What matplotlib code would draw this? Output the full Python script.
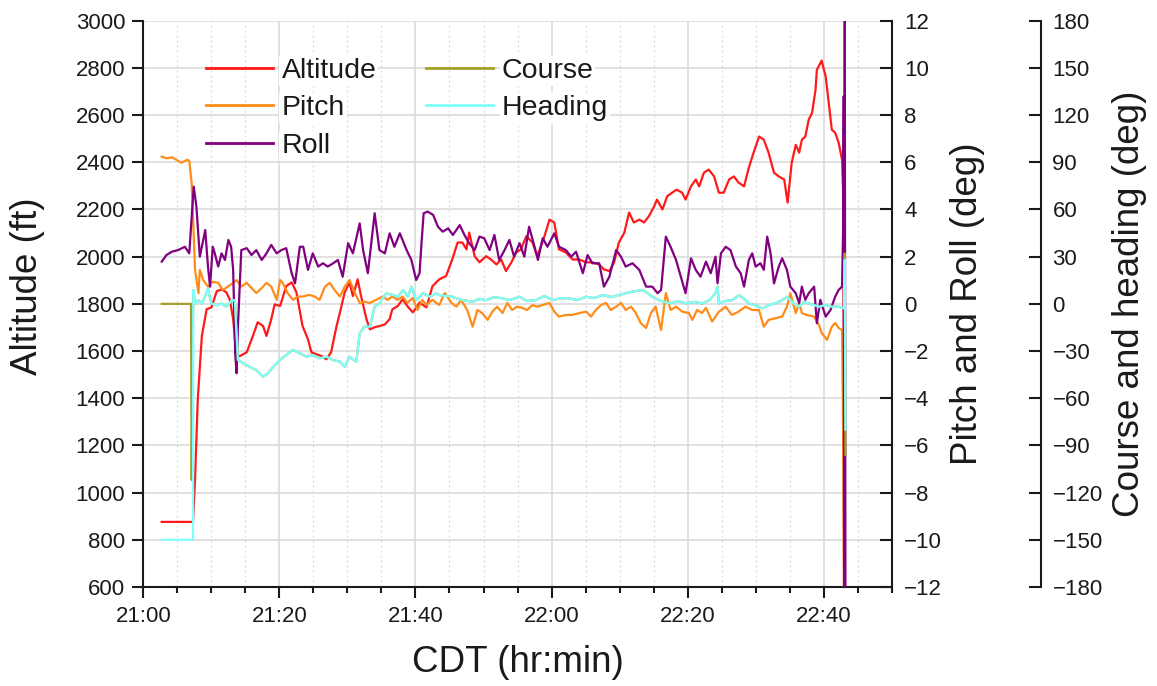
import matplotlib.pyplot as plt
from matplotlib.ticker import MultipleLocator, FixedLocator

plt.rcParams['font.family'] = ['Liberation Sans', 'DejaVu Sans']

# flight log, time in minutes after 21:00 CDT
altitude = [
    (2.7, 876), (7.3, 876), (7.6, 1058), (8.0, 1396), (8.6, 1664), (9.3, 1777), (10.0, 1785),
    (10.8, 1854), (11.5, 1861), (12.2, 1849), (12.7, 1819), (13.2, 1735), (13.7, 1579), (14.2, 1579),
    (15.2, 1595), (16.1, 1664), (16.8, 1722), (17.6, 1706), (18.1, 1664), (18.8, 1735), (19.3, 1798),
    (20.1, 1791), (21.0, 1875), (21.8, 1891), (22.5, 1849), (23.4, 1706), (24.2, 1650), (24.7, 1595),
    (25.4, 1587), (26.2, 1579), (26.9, 1565), (27.6, 1595), (28.4, 1706), (28.9, 1764), (29.6, 1849),
    (30.3, 1891), (30.8, 1833), (31.5, 1904), (32.0, 1833), (32.8, 1735), (33.3, 1692), (34.0, 1701),
    (34.7, 1706), (35.5, 1713), (36.2, 1735), (36.6, 1777), (37.4, 1791), (38.1, 1819), (38.8, 1791),
    (39.6, 1764), (40.3, 1791), (40.6, 1806), (41.6, 1785), (42.5, 1875), (43.5, 1904), (44.5, 1918),
    (45.4, 1988), (46.2, 2060), (46.9, 2060), (47.5, 2031), (47.9, 2102), (48.7, 2002), (49.4, 1976),
    (50.4, 2002), (51.1, 1988), (51.9, 1967), (52.6, 1988), (53.3, 1939), (54.1, 1976), (54.8, 2018),
    (55.5, 2031), (56.3, 2087), (57.2, 2060), (57.9, 2002), (58.9, 2081), (59.7, 2157), (60.4, 2145),
    (61.1, 2031), (62.1, 2018), (63.1, 1988), (64.1, 1988), (65.1, 1976), (66.0, 1976), (67.0, 1967),
    (67.7, 1946), (68.5, 1939), (69.2, 1976), (69.9, 2060), (70.7, 2102), (71.4, 2187), (72.1, 2145),
    (72.9, 2157), (73.6, 2145), (74.3, 2171), (75.1, 2214), (75.5, 2242), (76.3, 2200), (77.0, 2256),
    (77.7, 2271), (78.4, 2284), (79.2, 2271), (79.7, 2242), (80.5, 2298), (81.2, 2327), (81.7, 2298),
    (82.4, 2356), (83.1, 2369), (83.9, 2340), (84.6, 2271), (85.3, 2271), (86.1, 2327), (86.8, 2340),
    (87.5, 2314), (88.3, 2298), (89.0, 2377), (89.7, 2441), (90.5, 2509), (91.2, 2496), (91.9, 2441),
    (92.7, 2356), (93.4, 2340), (94.2, 2327), (94.7, 2229), (95.3, 2398), (95.9, 2474), (96.4, 2441),
    (96.8, 2496), (97.3, 2509), (97.8, 2580), (98.3, 2610), (98.8, 2707), (99.0, 2792), (99.7, 2831),
    (100.3, 2763), (100.8, 2636), (101.2, 2538), (101.7, 2525), (102.2, 2483), (102.7, 2411),
    (102.9, 2242), (103.0, 550),
]

pitch = [
    (2.7, 6.24), (3.4, 6.17), (4.2, 6.21), (4.9, 6.10), (5.6, 5.98), (6.4, 6.10), (6.75, 6.07),
    (7.1, 5.12), (7.6, 1.44), (8.1, 0.45), (8.3, 1.44), (8.8, 1.01), (9.5, 0.73), (10.2, 0.94),
    (11.0, 0.89), (11.7, 0.59), (12.4, 0.73), (13.2, 0.89), (13.7, 1.01), (14.4, 0.73), (15.2, 0.89),
    (15.9, 0.67), (16.6, 0.46), (17.4, 0.67), (18.1, 0.89), (18.8, 0.73), (19.6, 0.17), (20.1, 1.01),
    (20.5, 0.89), (21.2, 0.46), (22.0, 0.17), (22.7, 0.31), (23.4, 0.31), (24.4, 0.38), (25.2, 0.31),
    (25.9, 0.17), (26.7, 0.73), (27.4, 0.89), (28.1, 0.59), (28.9, 0.31), (29.6, 0.73), (30.3, 1.01),
    (31.1, 0.46), (31.8, 0.04), (32.5, 0.09), (33.3, 0.04), (34.2, 0.17), (35.2, 0.31), (35.9, 0.17),
    (36.6, 0.31), (37.4, 0.17), (38.1, 0.31), (38.8, 0.04), (39.6, 0.25), (40.3, -0.26), (41.0, 0.17),
    (41.6, -0.05), (42.5, 0.17), (43.5, -0.05), (44.3, 0.46), (45.3, 0.04), (46.0, -0.12), (46.7, 0.17),
    (47.6, -0.26), (48.4, -0.97), (49.1, -0.26), (49.8, -0.39), (50.6, -0.68), (51.3, -0.33),
    (52.0, -0.12), (52.8, -0.39), (53.5, 0.04), (54.2, -0.26), (54.9, -0.12), (55.7, -0.17),
    (56.4, -0.26), (57.2, -0.05), (57.9, -0.12), (58.7, -0.05), (59.7, 0.04), (60.4, -0.33),
    (61.1, -0.54), (62.1, -0.47), (63.0, -0.47), (64.1, -0.39), (65.1, -0.33), (65.8, -0.54),
    (66.5, -0.26), (67.3, -0.05), (68.0, 0.04), (68.7, -0.26), (69.5, -0.12), (70.2, 0.04),
    (70.9, -0.26), (71.7, -0.12), (72.4, -0.39), (73.1, -0.81), (73.9, -1.02), (74.6, -0.39),
    (75.3, -0.12), (76.1, -1.11), (76.8, 0.46), (77.5, -0.26), (78.3, -0.12), (79.2, -0.33),
    (80.2, -0.39), (80.7, -0.68), (81.4, -0.26), (82.1, -0.39), (82.7, -0.17), (83.6, -0.75),
    (84.6, -0.33), (85.6, -0.12), (86.5, -0.47), (87.5, -0.33), (88.5, -0.12), (89.5, -0.26),
    (90.5, -0.26), (91.2, -0.97), (91.9, -0.68), (92.9, -0.61), (93.9, -0.54), (94.6, -0.12),
    (95.1, 0.45), (95.9, -0.39), (96.4, 0.04), (96.8, -0.39), (97.5, -0.47), (98.6, -0.54),
    (99.3, -0.89), (99.7, -1.23), (100.5, -1.53), (101.2, -0.97), (101.7, -0.81), (102.2, -1.02),
    (102.7, -1.11), (102.85, -5.0), (103.0, -12.5),
]

roll = [
    (2.7, 1.79), (3.4, 2.07), (4.2, 2.21), (5.1, 2.28), (6.1, 2.42), (6.75, 2.14), (7.1, 3.69),
    (7.4, 4.97), (7.8, 4.12), (8.3, 2.00), (8.8, 2.71), (9.1, 3.13), (9.5, 1.58), (9.8, 0.73),
    (10.2, 2.42), (10.5, 2.14), (11.0, 1.58), (11.5, 2.14), (12.0, 1.86), (12.5, 2.71), (12.9, 2.42),
    (13.2, 1.44), (13.5, -2.09), (13.7, -2.94), (13.9, -0.97), (14.4, 2.28), (15.2, 2.36),
    (15.9, 2.07), (16.6, 2.28), (17.4, 1.86), (18.1, 2.14), (18.8, 2.50), (19.6, 2.14), (20.3, 2.28),
    (21.0, 2.36), (21.8, 1.30), (22.3, 0.87), (23.0, 2.42), (23.5, 2.42), (24.2, 1.44), (24.9, 2.14),
    (25.7, 1.58), (26.4, 1.72), (27.1, 1.58), (27.9, 1.72), (28.6, 1.86), (29.3, 1.15), (30.1, 2.57),
    (30.8, 2.14), (31.8, 3.41), (32.3, 2.28), (33.0, 1.30), (34.0, 3.84), (34.7, 2.28), (35.5, 2.14),
    (36.2, 2.99), (36.9, 2.42), (37.7, 2.99), (38.7, 2.28), (39.4, 1.86), (40.1, 1.01), (40.6, 1.30),
    (40.85, 2.42), (41.2, 3.84), (41.8, 3.91), (42.6, 3.77), (43.3, 3.27), (44.0, 3.06), (44.8, 3.20),
    (45.5, 2.92), (46.5, 3.34), (47.2, 2.92), (47.9, 2.57), (48.7, 2.28), (49.4, 2.85), (50.1, 2.78),
    (50.9, 2.28), (51.6, 2.92), (52.3, 1.86), (53.1, 2.28), (53.8, 2.71), (54.5, 2.00), (55.3, 2.57),
    (56.0, 2.00), (56.7, 3.27), (57.5, 2.42), (58.0, 1.86), (58.7, 2.78), (59.4, 2.42), (60.4, 2.99),
    (61.1, 2.42), (62.1, 2.28), (62.9, 2.00), (63.6, 2.21), (64.6, 1.30), (65.3, 2.07), (66.0, 1.72),
    (67.0, 1.72), (67.7, 0.73), (68.5, 1.15), (69.5, 2.28), (70.2, 2.00), (70.9, 1.58), (71.9, 1.72),
    (72.9, 1.44), (73.9, 0.73), (74.8, 0.73), (75.6, 0.45), (76.1, 0.59), (76.8, 2.85), (77.5, 2.42),
    (78.3, 1.86), (79.0, 1.15), (79.7, 0.45), (80.5, 1.93), (81.2, 1.44), (81.9, 1.15), (82.7, 1.79),
    (83.4, 1.30), (84.1, 2.00), (84.4, 0.87), (84.9, 2.14), (85.6, 2.42), (86.3, 2.28), (87.1, 1.58),
    (87.8, 1.30), (88.3, 0.73), (89.0, 1.86), (89.5, 2.14), (90.0, 1.58), (90.7, 1.72), (91.2, 1.44),
    (91.7, 2.85), (92.2, 2.14), (92.7, 0.87), (93.4, 1.58), (93.9, 1.93), (94.6, 1.44), (95.1, 0.73),
    (95.9, 0.45), (96.4, 0.03), (96.8, 0.73), (97.3, 0.17), (97.8, 0.45), (98.6, 0.73), (99.0, -0.82),
    (99.5, 0.17), (100.3, -0.54), (101.0, -0.26), (101.7, 0.31), (102.2, 0.59), (102.7, 0.73),
    (102.85, 3.0), (102.95, 8.8), (103.0, -12.5), (103.1, 12.5), (103.2, -12.5),
]

heading = [
    (2.7, -150), (7.3, -150), (7.34, 8.8), (7.6, 0.2), (8.1, 2.3), (8.6, 0.2), (9.05, 4.5), (9.5, 9.7),
    (10.0, 0.2), (10.8, -0.8), (11.5, 0.2), (12.2, -1.9), (13.0, 2.3), (13.45, 2.3), (13.9, -35.7),
    (14.7, -37.8), (15.6, -40.0), (16.6, -42.1), (17.6, -46.3), (18.3, -44.2), (19.1, -40.0),
    (20.1, -35.7), (21.0, -32.5), (22.0, -29.3), (23.0, -31.4), (24.0, -33.6), (24.9, -32.5),
    (25.9, -34.6), (26.9, -33.6), (27.9, -35.7), (28.9, -36.8), (29.6, -40.0), (30.3, -33.6),
    (31.3, -36.8), (31.8, -18.7), (32.5, -14.5), (33.3, -14.5), (34.0, -1.8), (34.7, 0.3),
    (35.7, 6.7), (36.7, 5.6), (37.4, 4.5), (38.2, 8.8), (38.9, 4.5), (39.4, 10.9), (40.1, 2.4),
    (41.1, 6.7), (42.1, 4.5), (43.05, 6.7), (43.5, 5.6), (45.4, 4.5), (46.8, 2.4), (48.4, 1.4),
    (49.4, 3.1), (50.4, 2.4), (51.6, 4.3), (52.8, 3.5), (53.8, 2.4), (55.3, 4.5), (56.4, 1.8),
    (57.7, 2.4), (58.9, 5.0), (60.2, 2.4), (61.4, 3.7), (62.6, 3.5), (63.8, 2.4), (65.1, 4.5),
    (66.3, 3.7), (67.5, 5.6), (68.8, 4.3), (69.9, 5.6), (71.0, 6.9), (71.9, 7.7), (73.4, 8.8),
    (74.1, 6.9), (74.8, 4.5), (75.8, 2.4), (77.3, 0.3), (78.7, 1.8), (79.7, 0.3), (80.95, 1.2),
    (82.2, 0.3), (83.2, 2.4), (84.1, 6.7), (84.4, 10.9), (84.6, 0.3), (85.5, 1.8), (86.6, 2.4),
    (87.6, 5.6), (88.3, 3.1), (89.0, 0.3), (89.9, -0.8), (91.0, -2.8), (92.0, -0.8), (92.9, 0.3),
    (93.9, 2.4), (94.6, 4.5), (95.6, 0.3), (96.4, -1.8), (97.1, 1.2), (97.8, 0.3), (98.6, -0.8),
    (99.3, -1.8), (100.2, -0.8), (101.2, -1.8), (102.2, -1.8), (103.0, -2.8), (103.1, 28.0),
    (103.2, -80.0),
]

# course sits under the heading trace once airborne
course_ground = [(2.7, 0), (7.0, 0), (7.1, -112), (7.34, 8.8)]
course_end = [(103.1, 32.0), (103.2, -96.0)]

time_ticks = [0, 20, 40, 60, 80, 100]
time_labels = ['21:00', '21:20', '21:40', '22:00', '22:20', '22:40']

C_ALT = '#ff1a1a'
C_PITCH = '#ff8c1a'
C_ROLL = '#800080'
C_COURSE = '#a0a028'
C_HEAD = '#80ffff'
INK = '#1a1a1a'


def unzip(pairs):
    return [p[0] for p in pairs], [p[1] for p in pairs]


fig = plt.figure(figsize=(11.57, 6.86), dpi=100)
ax = fig.add_axes([0.1239, 0.1443, 0.6468, 0.8255])
par1 = ax.twinx()
par2 = ax.twinx()
par2.spines['right'].set_position(('axes', 1.2))

t, v = unzip(altitude)
l_alt, = ax.plot(t, v, color=C_ALT, lw=1.6)

t, v = unzip(pitch)
l_pitch, = par1.plot(t, v, color=C_PITCH, lw=1.6)
t, v = unzip(roll)
l_roll, = par1.plot(t, v, color=C_ROLL, lw=1.6)

course = course_ground + [p for p in heading if 7.6 <= p[0] <= 103.0] + course_end
t, v = unzip(course)
l_course, = par2.plot(t, v, color=C_COURSE, lw=1.6)
t, v = unzip(heading)
l_head, = par2.plot(t, v, color=C_HEAD, lw=1.6)

ax.set_xlim(0, 110)
ax.set_ylim(600, 3000)
par1.set_ylim(-12, 12)
par2.set_ylim(-180, 180)

ax.xaxis.set_major_locator(FixedLocator(time_ticks))
ax.set_xticklabels(time_labels)
ax.xaxis.set_minor_locator(MultipleLocator(5))
ax.yaxis.set_major_locator(MultipleLocator(200))
par1.yaxis.set_major_locator(MultipleLocator(2))
par2.yaxis.set_major_locator(MultipleLocator(30))

ax.grid(True, which='major', color='#d8d8d8', lw=1.1)
ax.grid(True, which='minor', axis='x', color='#d8d8d8', lw=0.9, ls=(0, (1.5, 2.5)))
ax.set_axisbelow(True)

for a in (ax, par1, par2):
    a.spines['top'].set_visible(False)
    for s in a.spines.values():
        s.set_linewidth(1.5)
        s.set_color(INK)
ax.spines['right'].set_visible(False)
for a in (par1, par2):
    a.spines['left'].set_visible(False)
    a.spines['bottom'].set_visible(False)
par1.spines['right'].set_visible(True)
par2.spines['right'].set_visible(True)

ax.tick_params(axis='y', direction='out', length=8, width=1.5, labelsize=16, pad=5,
               color=INK, labelcolor=INK)
ax.tick_params(axis='x', which='major', direction='out', length=8, width=1.5, labelsize=16,
               pad=6, color=INK, labelcolor=INK)
ax.tick_params(axis='x', which='minor', direction='out', length=4, width=1.5, color=INK)
par1.tick_params(axis='y', direction='in', length=9, width=1.5, labelsize=16, pad=9,
                 color=INK, labelcolor=INK)
par2.tick_params(axis='y', direction='in', length=9, width=1.5, labelsize=16, pad=8,
                 color=INK, labelcolor=INK)

ax.set_xlabel('CDT (hr:min)', fontsize=26.5, color=INK)
ax.set_ylabel('Altitude (ft)', fontsize=26.5, color=INK)
par1.set_ylabel('Pitch and Roll (deg)', fontsize=26.5, color=INK)
par2.set_ylabel('Course and heading (deg)', fontsize=26.5, color=INK)
ax.xaxis.set_label_coords(0.5, -0.102)
ax.yaxis.set_label_coords(-0.131, 0.531)
par1.yaxis.set_label_coords(1.0775, 0.5)
par2.yaxis.set_label_coords(1.295, 0.5)

handles = [l_alt, l_pitch, l_roll, l_course, l_head]
labels = ['Altitude', 'Pitch', 'Roll', 'Course', 'Heading']
leg = par2.legend(handles, labels, ncol=2, loc='upper left', bbox_to_anchor=(0.0837, 0.935),
                  frameon=False, fontsize=20.5, handlelength=2.35, handletextpad=0.3,
                  columnspacing=1.75, labelspacing=0.41, borderpad=0, borderaxespad=0)
for line in leg.get_lines():
    line.set_linewidth(2.0)
for txt in leg.get_texts():
    txt.set_color(INK)
    txt.set_bbox(dict(facecolor='white', edgecolor='none', pad=1.5))

fig.savefig('out.png', dpi=100)
